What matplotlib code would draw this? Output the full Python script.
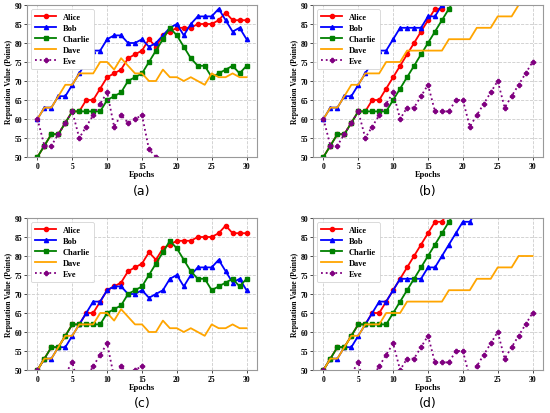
import matplotlib
matplotlib.use("Agg")
import matplotlib.pyplot as plt
import numpy as np

epochs = np.arange(31)

# panel (a)
alice_a = [50, 53, 56, 56, 59, 62, 62, 65, 65, 68, 71, 72, 73, 76, 77, 78, 81, 79, 82, 83, 84, 84, 84, 85, 85, 85, 86, 88, 86, 86, 86]
bob_a = [60, 63, 63, 66, 66, 69, 72, 75, 78, 78, 81, 82, 82, 80, 80, 81, 79, 80, 82, 84, 85, 82, 85, 87, 87, 87, 89, 86, 83, 84, 81]
charlie_a = [50, 53, 56, 56, 59, 62, 62, 62, 62, 62, 65, 66, 67, 70, 71, 72, 75, 78, 81, 84, 82, 79, 76, 74, 74, 71, 72, 73, 74, 72, 74]
dave_a = [60, 63, 63, 66, 69, 69, 72, 72, 72, 75, 75, 73, 76, 74, 72, 72, 70, 70, 73, 71, 71, 70, 71, 70, 69, 72, 71, 71, 72, 71, 71]
eve_a = [60, 53, 53, 56, 59, 62, 55, 58, 61, 64, 67, 58, 61, 59, 60, 61, 52, 50, 46, 43, 40, 38, 36, 34, 32, 30, 28, 26, 24, 22, 20]

# panel (b)
alice_b = [50, 53, 56, 56, 59, 62, 62, 65, 65, 68, 71, 74, 77, 80, 83, 86, 89, 89, 92, 95, 98, 101, 104, 107, 110, 113, 116, 119, 122, 125, 128]
bob_b = [60, 63, 63, 66, 66, 69, 72, 75, 78, 78, 81, 84, 84, 84, 84, 87, 87, 90, 93, 96, 99, 99, 102, 105, 108, 111, 114, 117, 120, 123, 126]
charlie_b = [50, 53, 56, 56, 59, 62, 62, 62, 62, 62, 65, 68, 71, 74, 77, 80, 83, 86, 89, 92, 95, 98, 101, 104, 107, 110, 113, 116, 119, 122, 125]
dave_b = [60, 63, 63, 66, 69, 69, 72, 72, 72, 75, 75, 75, 78, 78, 78, 78, 78, 78, 81, 81, 81, 81, 84, 84, 84, 87, 87, 87, 90, 90, 90]
eve_b = [60, 53, 53, 56, 59, 62, 55, 58, 61, 64, 67, 60, 63, 63, 66, 69, 62, 62, 62, 65, 65, 58, 61, 64, 67, 70, 63, 66, 69, 72, 75]

# panel (c)
alice_c = alice_a
bob_c = [50, 53, 53, 56, 56, 59, 62, 65, 68, 68, 71, 72, 72, 70, 70, 71, 69, 70, 71, 74, 75, 72, 75, 77, 77, 77, 79, 76, 73, 74, 71]
charlie_c = charlie_a
dave_c = [50, 53, 53, 56, 59, 59, 62, 62, 62, 65, 65, 63, 66, 64, 62, 62, 60, 60, 63, 61, 61, 60, 61, 60, 59, 62, 61, 61, 62, 61, 61]
eve_c = [50, 43, 43, 46, 49, 52, 45, 48, 51, 54, 57, 48, 51, 49, 50, 51, 42, 40, 36, 33, 30, 28, 26, 24, 22, 20, 18, 16, 14, 12, 10]

# panel (d)
alice_d = alice_b
bob_d = [50, 53, 53, 56, 56, 59, 62, 65, 68, 68, 71, 74, 74, 74, 74, 77, 77, 80, 83, 86, 89, 89, 92, 95, 98, 101, 104, 107, 110, 113, 116]
charlie_d = charlie_b
dave_d = [50, 53, 53, 56, 59, 59, 62, 62, 62, 65, 65, 65, 68, 68, 68, 68, 68, 68, 71, 71, 71, 71, 74, 74, 74, 77, 77, 77, 80, 80, 80]
eve_d = [50, 43, 43, 46, 49, 52, 45, 48, 51, 54, 57, 50, 53, 53, 56, 59, 52, 52, 52, 55, 55, 48, 51, 54, 57, 60, 53, 56, 59, 62, 65]

panels = [
    ("(a)", [alice_a, bob_a, charlie_a, dave_a, eve_a]),
    ("(b)", [alice_b, bob_b, charlie_b, dave_b, eve_b]),
    ("(c)", [alice_c, bob_c, charlie_c, dave_c, eve_c]),
    ("(d)", [alice_d, bob_d, charlie_d, dave_d, eve_d]),
]
names = ["Alice", "Bob", "Charlie", "Dave", "Eve"]
colors = ["red", "blue", "green", "orange", "purple"]
markers = ["o", "^", "s", None, "P"]
styles = ["-", "-", "-", "-", ":"]

plt.rcParams["font.family"] = ["Liberation Serif", "DejaVu Serif"]

fig = plt.figure(figsize=(5.5, 4.14), dpi=100)

# axes boxes in pixels: left, top, and y of the panel letter
boxes = [(27, 6, 192), (313, 6, 192), (27, 219, 404), (313, 219, 404)]
W, H = 230, 152

for (label, series), (px, py, ly) in zip(panels, boxes):
    ax = fig.add_axes([px / 550, 1 - (py + H) / 414, W / 550, H / 414])
    for vals, name, c, m, ls in zip(series, names, colors, markers, styles):
        ax.plot(epochs, vals, color=c, marker=m, linestyle=ls, linewidth=1.3,
                markersize=3, label=name)
    ax.set_xlim(-1.5, 31.5)
    ax.set_ylim(50, 90)
    ax.set_xticks([0, 5, 10, 15, 20, 25, 30])
    ax.set_yticks([50, 55, 60, 65, 70, 75, 80, 85, 90])
    ax.tick_params(labelsize=5.5, length=2, width=0.5, pad=1.5)
    for t in ax.get_xticklabels() + ax.get_yticklabels():
        t.set_fontweight("bold")
    ax.grid(True, linestyle="--", color="#cccccc", linewidth=0.6)
    for s in ax.spines.values():
        s.set_color("#999999")
        s.set_linewidth(0.8)
    ax.set_xlabel("Epochs", fontsize=6, fontweight="bold", labelpad=0)
    ax.set_ylabel("Reputation Value (Points)", fontsize=5.5, fontweight="bold", labelpad=1)
    leg = ax.legend(loc="upper left", prop={"size": 6, "weight": "bold"},
                    handlelength=2.5, borderpad=0.5, labelspacing=0.35,
                    framealpha=1, edgecolor="#cccccc", fancybox=True)
    leg.get_frame().set_linewidth(0.5)
    fig.text((px + W / 2) / 550, 1 - ly / 414, label, ha="center", va="center",
             fontsize=9, family="DejaVu Sans")

fig.savefig("out.png", dpi=100)
